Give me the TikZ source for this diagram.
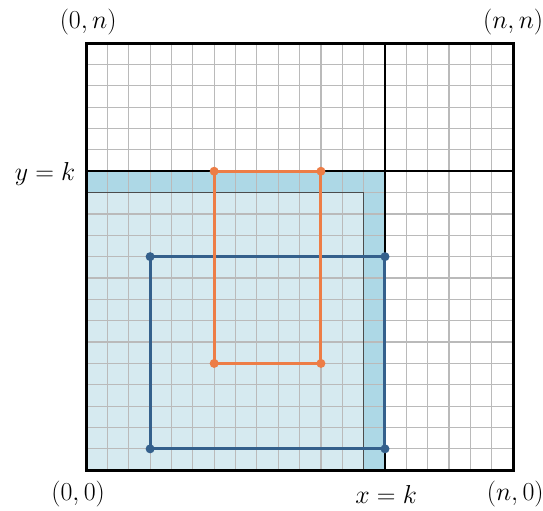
\documentclass[tikz,border=0pt]{standalone}
\usepackage{xcolor}
\usetikzlibrary{calc}

\definecolor{rectblue}{RGB}{52,96,140}
\definecolor{rectorange}{RGB}{237,125,70}
\definecolor{stripblue}{RGB}{173,216,230}
\definecolor{innerblue}{RGB}{214,234,240}

\begin{document}
\begin{tikzpicture}[x=0.5cm,y=0.5cm,
    lbl/.style={font=\fontsize{16}{19}\selectfont},
    corner/.style={line width=2pt}]
    \useasboundingbox (-4.03,-1.88) rectangle (21.40,22.02);

    % shaded squares
    \fill[stripblue] (0,0) rectangle (14,14);
    \fill[innerblue] (0,0) rectangle (13,13);

    % grid
    \draw[black!27, line width=0.8pt, step=0.5cm] (0,0) grid (20,20);
    \draw[black!70, line width=1pt] (0,13) -- (13,13) -- (13,0);

    % lines x=k and y=k
    \draw[line width=1.5pt] (0,14) -- (20,14);
    \draw[line width=1.5pt] (14,0) -- (14,20);

    % outer square
    \draw[line width=2pt] (0,0) rectangle (20,20);

    % blue rectangle
    \coordinate (bSW) at (3,1);
    \coordinate (bSE) at (14,1);
    \coordinate (bNE) at (14,10);
    \coordinate (bNW) at (3,10);
    \draw[corner, rectblue] (bSW) -- (bSE) -- (bNE) -- (bNW) -- cycle;
    \foreach \c in {bSW,bSE,bNE,bNW}
        \fill[rectblue] (\c) circle (3pt);

    % orange rectangle
    \coordinate (oSW) at (6,5);
    \coordinate (oSE) at (11,5);
    \coordinate (oNE) at (11,14);
    \coordinate (oNW) at (6,14);
    \draw[corner, rectorange] (oSW) -- (oSE) -- (oNE) -- (oNW) -- cycle;
    \foreach \c in {oSW,oSE,oNE,oNW}
        \fill[rectorange] (\c) circle (3pt);

    % corner labels
    \node[lbl] (lab00) at (-0.37,-1.12) {$(0,0)$};
    \node[lbl] (labn0) at (20.1,-1.12) {$(n,0)$};
    \node[lbl] (lab0n) at (0.1,21) {$(0,n)$};
    \node[lbl] (labnn) at (20,21) {$(n,n)$};

    % line labels
    \node[lbl] (labx) at (14.05,-1.12) {$x=k$};
    \node[lbl] (laby) at (-1.92,13.86) {$y=k$};
\end{tikzpicture}
\end{document}
